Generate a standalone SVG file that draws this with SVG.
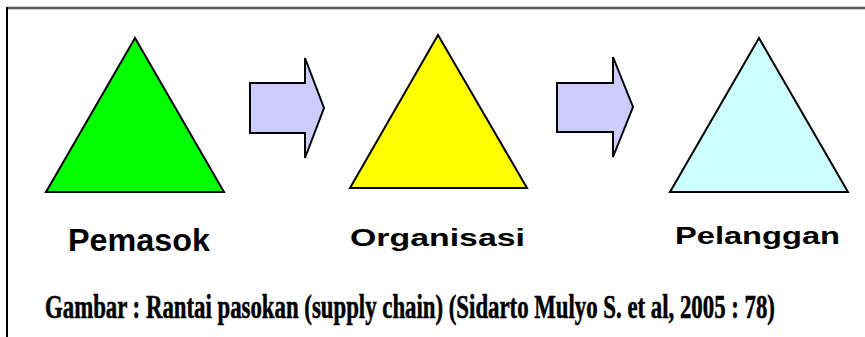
<svg xmlns="http://www.w3.org/2000/svg" width="865" height="337" viewBox="0 0 865 337">
<style>
.tri{stroke:#000;stroke-width:2;stroke-linejoin:miter}
.arr{fill:#ccccff;stroke:#000;stroke-width:2;stroke-linejoin:miter}
.lbl{font-family:"Liberation Sans",Arial,sans-serif;font-weight:bold;fill:#000}
.cap{font-family:"Liberation Serif","Times New Roman",serif;font-weight:bold;fill:#000;stroke:#000;stroke-width:0.6}
</style>
<rect width="865" height="337" fill="#fff"/>
<g id="frame">
<line x1="7" y1="8" x2="865" y2="8" stroke="#555" stroke-width="2.5"/>
<line x1="7" y1="7" x2="7" y2="337" stroke="#000" stroke-width="2"/>
</g>
<g id="pemasok">
<polygon class="tri" fill="#00ff00" points="135,38 224,192 46,192"/>
<text class="lbl" x="68" y="251" font-size="31" textLength="142" lengthAdjust="spacingAndGlyphs">Pemasok</text>
</g>
<g id="organisasi">
<polygon class="tri" fill="#ffff00" points="438,35 527,188 350,188"/>
<text class="lbl" x="350" y="246" font-size="24" textLength="175" lengthAdjust="spacingAndGlyphs">Organisasi</text>
</g>
<g id="pelanggan">
<polygon class="tri" fill="#ccffff" points="759,38 848,192 670,192"/>
<text class="lbl" x="675" y="244" font-size="23" textLength="165" lengthAdjust="spacingAndGlyphs">Pelanggan</text>
</g>
<g id="connectors">
<polygon class="arr" points="250,83 305,83 305,58 324,108 305,158 305,133 250,133"/>
<polygon class="arr" points="557,83 613,83 613,57 633,107 613,157 613,132 557,132"/>
</g>
<g id="caption">
<text class="cap" transform="translate(45,318) scale(0.66,1)" x="0" y="0" font-size="34" textLength="1106" lengthAdjust="spacingAndGlyphs">Gambar : Rantai pasokan (supply chain) (Sidarto Mulyo S. et al, 2005 : 78)</text>
</g>
</svg>
